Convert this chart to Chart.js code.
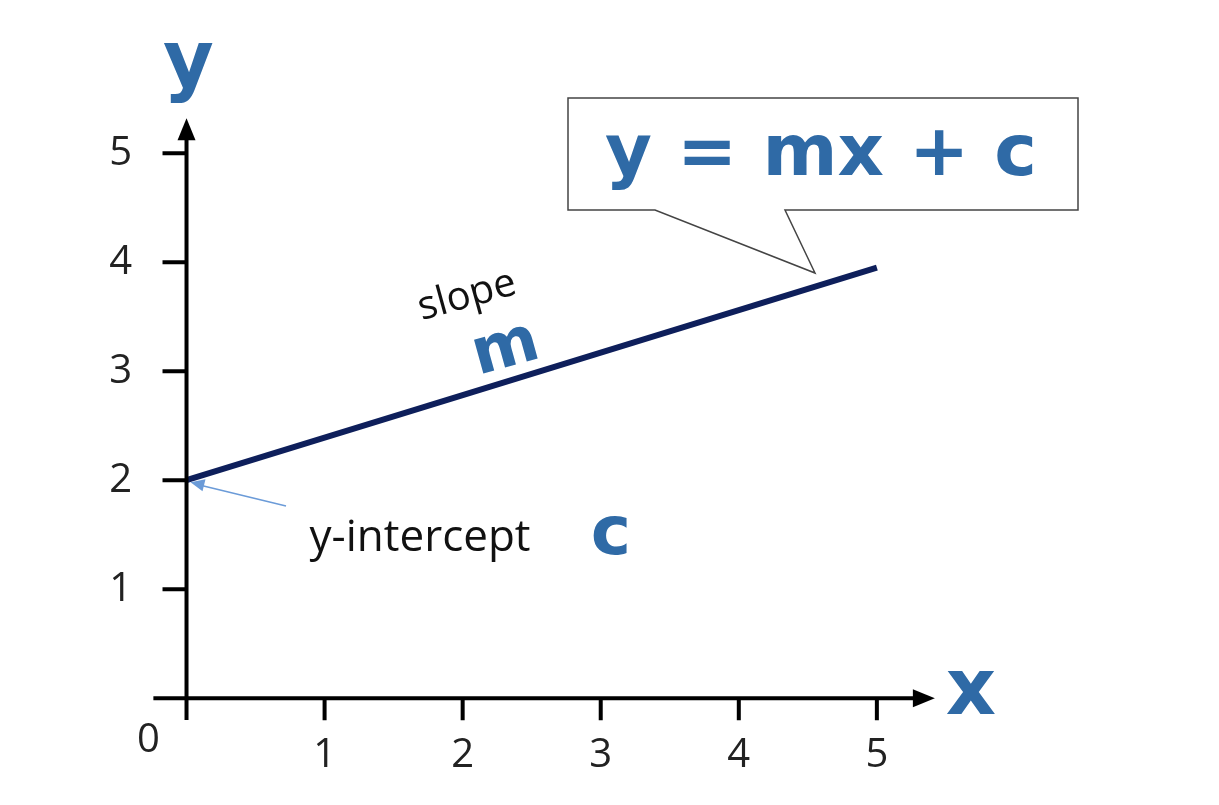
<!DOCTYPE html>
<html><head><meta charset="utf-8">
<script src="https://cdn.jsdelivr.net/npm/chart.js@4/dist/chart.umd.min.js"></script>
<style>html,body{margin:0;background:#fff}#wrap{width:1219px;height:805px}</style>
</head><body><div id="wrap"><canvas id="c"></canvas></div>
<script>
// line y = mx + c
const lineX = [0, 5];
const lineY = [2, 3.95];
const xTicks = [1, 2, 3, 4, 5];
const yTicks = [1, 2, 3, 4, 5];
const BLUE = '#2f6aa6';

const axesPlugin = {
  id: 'axes',
  afterDraw(chart){
    const ctx = chart.ctx, xs = chart.scales.x, ys = chart.scales.y;
    const ox = xs.getPixelForValue(0), oy = ys.getPixelForValue(0);
    ctx.save();
    ctx.strokeStyle = '#000'; ctx.fillStyle = '#000'; ctx.lineWidth = 4;
    const xEnd = xs.getPixelForValue(5.42), yEnd = ys.getPixelForValue(5.32);
    ctx.beginPath();
    ctx.moveTo(xs.getPixelForValue(-0.24), oy); ctx.lineTo(xEnd - 10, oy);
    ctx.moveTo(ox, ys.getPixelForValue(-0.2)); ctx.lineTo(ox, yEnd + 10);
    xTicks.forEach(v => { const p = xs.getPixelForValue(v); ctx.moveTo(p, oy); ctx.lineTo(p, oy + 22); });
    yTicks.forEach(v => { const p = ys.getPixelForValue(v); ctx.moveTo(ox, p); ctx.lineTo(ox - 24, p); });
    ctx.stroke();
    ctx.beginPath(); ctx.moveTo(xEnd, oy); ctx.lineTo(xEnd - 22, oy - 9); ctx.lineTo(xEnd - 22, oy + 9); ctx.fill();
    ctx.beginPath(); ctx.moveTo(ox, yEnd); ctx.lineTo(ox - 9, yEnd + 22); ctx.lineTo(ox + 9, yEnd + 22); ctx.fill();

    ctx.font = '40px "Open Sans"'; ctx.textAlign = 'center'; ctx.textBaseline = 'middle';
    ctx.fillStyle = '#222'; ctx.fillText('0', ox - 38, oy + 42);

    // axis names
    ctx.fillStyle = BLUE; ctx.font = 'bold 78px "DejaVu Sans"';
    ctx.fillText('y', ox + 2, 66);
    ctx.fillText('x', xEnd + 36, oy - 4);

    // callout
    const bx = 568, by = 98, bw = 510, bh = 112;
    ctx.fillStyle = '#fff'; ctx.strokeStyle = '#444'; ctx.lineWidth = 1.5;
    ctx.beginPath();
    ctx.moveTo(bx, by); ctx.lineTo(bx + bw, by); ctx.lineTo(bx + bw, by + bh);
    ctx.lineTo(785, by + bh); ctx.lineTo(815, 273); ctx.lineTo(655, by + bh);
    ctx.lineTo(bx, by + bh); ctx.closePath(); ctx.fill(); ctx.stroke();
    ctx.fillStyle = BLUE; ctx.font = 'bold 72px "DejaVu Sans"';
    ctx.fillText('y = mx + c', bx + bw / 2 - 2, by + bh / 2 + 2);

    // slope labels
    ctx.save(); ctx.translate(467, 296); ctx.rotate(-0.27);
    ctx.fillStyle = '#111'; ctx.font = '40px "Open Sans"'; ctx.fillText('slope', 0, 0); ctx.restore();
    ctx.save(); ctx.translate(506, 350); ctx.rotate(-0.27);
    ctx.fillStyle = BLUE; ctx.font = 'bold 64px "DejaVu Sans"'; ctx.fillText('m', 0, 0); ctx.restore();

    // intercept
    ctx.fillStyle = '#111'; ctx.font = '44px "Open Sans"'; ctx.fillText('y-intercept', 420, 538);
    ctx.fillStyle = BLUE; ctx.font = 'bold 68px "DejaVu Sans"'; ctx.fillText('c', 611, 536);
    const ix = ox + 4, iy = ys.getPixelForValue(2) + 2;
    ctx.strokeStyle = '#6b9bd8'; ctx.fillStyle = '#6b9bd8'; ctx.lineWidth = 1.5;
    ctx.beginPath(); ctx.moveTo(286, 506); ctx.lineTo(ix + 10, iy + 3); ctx.stroke();
    ctx.beginPath(); ctx.moveTo(ix, iy); ctx.lineTo(ix + 15, iy - 3); ctx.lineTo(ix + 12, iy + 9); ctx.fill();
    ctx.restore();
  }
};

new Chart(document.getElementById('c'), {
  type: 'scatter',
  data: { datasets: [{ data: lineX.map((x, i) => ({ x, y: lineY[i] })), showLine: true,
    borderColor: '#0e1f5b', borderWidth: 6, pointRadius: 0 }] },
  options: {
    responsive: true, maintainAspectRatio: false, animation: false,
    layout: { padding: { top: 115, right: 280, left: 0, bottom: 0 } },
    plugins: { legend: { display: false }, tooltip: { enabled: false } },
    scales: {
      x: { type: 'linear', min: -0.25, max: 5.45, afterFit(s){ s.height = 85; },
        afterBuildTicks(s){ s.ticks = xTicks.map(v => ({ value: v })); },
        grid: { display: false }, border: { display: false },
        ticks: { color: '#222', font: { size: 40, family: '"Open Sans"' }, padding: 4 } },
      y: { type: 'linear', min: -0.2, max: 5.35, afterFit(s){ s.width = 152; },
        afterBuildTicks(s){ s.ticks = yTicks.map(v => ({ value: v })); },
        grid: { display: false }, border: { display: false },
        ticks: { color: '#222', font: { size: 40, family: '"Open Sans"' }, padding: 12 } }
    }
  },
  plugins: [axesPlugin]
});
</script></body></html>
